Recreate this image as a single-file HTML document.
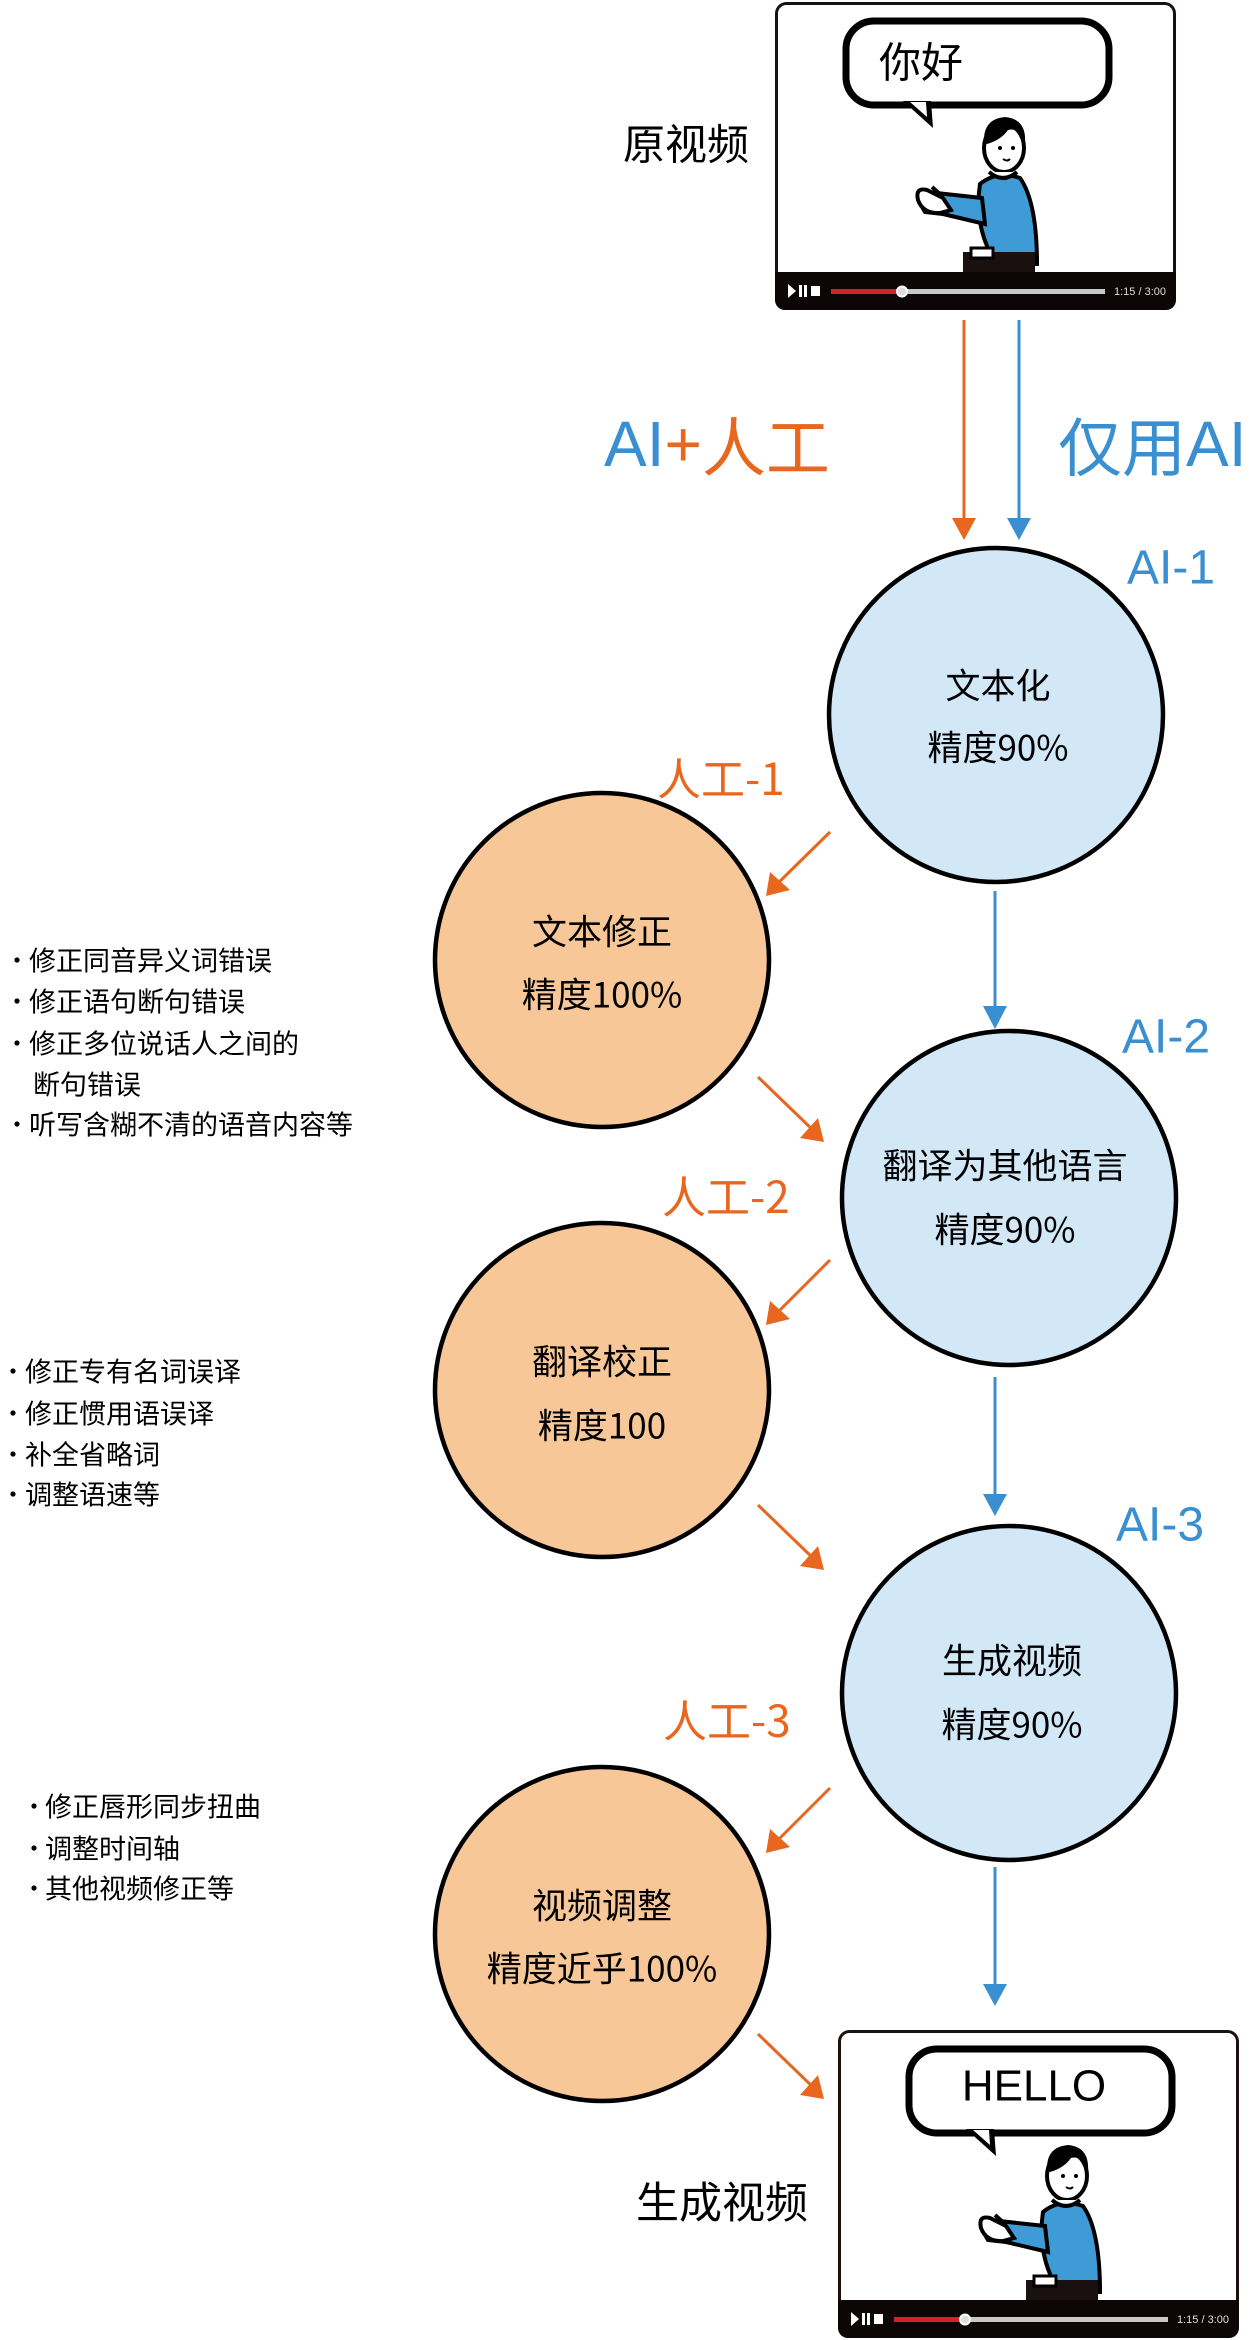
<!DOCTYPE html>
<html><head><meta charset="utf-8"><style>
html,body{margin:0;padding:0;background:#fff}
svg{display:block}
text{font-family:"Liberation Sans","Noto Sans CJK SC",sans-serif}
.c{font-family:"Noto Sans CJK SC","Liberation Sans",sans-serif}
</style></head><body>
<svg width="1253" height="2340" viewBox="0 0 1253 2340" xmlns="http://www.w3.org/2000/svg">
<defs>
<g id="vid">
  <rect x="1.5" y="1.5" width="398" height="305" rx="10" fill="#fff" stroke="#1a1010" stroke-width="3"/>
  <path d="M0,270 H401 V298 a10,10 0 0 1 -10,10 H10 a10,10 0 0 1 -10,-10 z" fill="#0c0606"/>
  <path d="M13,282 l8,7 l-8,7 z" fill="#fff"/>
  <rect x="24" y="283" width="3" height="12" fill="#fff"/><rect x="29" y="283" width="3" height="12" fill="#fff"/>
  <rect x="36" y="284" width="9" height="10" fill="#fff"/>
  <rect x="56" y="287" width="274" height="5" fill="#c8c8c8"/>
  <rect x="56" y="287" width="71" height="5" fill="#d8202a"/>
  <circle cx="127" cy="289.5" r="5" fill="#ddd" stroke="#fff" stroke-width="2"/>
  <rect x="71" y="19" width="263" height="84" rx="28" fill="#fff" stroke="#000" stroke-width="7"/>
  <path d="M128,99 L156,99 L158,126 z" fill="#000"/>
  <path d="M135,100 L151,100 L152,115 z" fill="#fff"/>
  <path d="M205,182 Q222,168 245,176 Q262,200 262,262 L210,262 L212,244 Q200,215 205,182 z" fill="#3f9bd6" stroke="#000" stroke-width="4"/>
  <path d="M207,196 L152,190 Q142,198 150,210 L168,212 L210,222 z" fill="#3f9bd6" stroke="#000" stroke-width="4"/>
  <path d="M152,188 Q140,185 143,198 Q148,212 165,211 L176,208 L168,196 z" fill="#fff" stroke="#000" stroke-width="4"/>
  <path d="M157,185 L168,195" stroke="#000" stroke-width="4"/>
  <ellipse cx="229" cy="146" rx="20" ry="24" fill="#fff" stroke="#000" stroke-width="4"/>
  <path d="M209,140 Q208,117 230,115 Q252,117 250,142 Q244,125 233,128 Q226,138 212,142 z" fill="#000"/>
  <circle cx="225" cy="146" r="2" fill="#000"/><circle cx="238" cy="146" r="2" fill="#000"/>
  <path d="M228,157 q4,3 7,0" stroke="#000" stroke-width="2" fill="none"/>
  <path d="M214,170 Q228,182 242,170" fill="#fff" stroke="#000" stroke-width="4"/>
  <rect x="188" y="250" width="72" height="20" fill="#1a1010"/>
  <rect x="196" y="246" width="22" height="10" fill="#fff" stroke="#000" stroke-width="3"/>
</g>
</defs>

<use href="#vid" x="775" y="2"/>
<text class="c" x="921" y="60" font-size="42" dominant-baseline="central" text-anchor="middle">你好</text>
<text x="1140" y="292" font-size="11" fill="#ddd" dominant-baseline="central" text-anchor="middle">1:15 / 3:00</text>
<use href="#vid" x="838" y="2030"/>
<text x="1034" y="2086" font-size="44" dominant-baseline="central" text-anchor="middle">HELLO</text>
<text x="1203" y="2320" font-size="11" fill="#ddd" dominant-baseline="central" text-anchor="middle">1:15 / 3:00</text>

<text class="c" x="686" y="142" font-size="42" dominant-baseline="central" text-anchor="middle">原视频</text>
<text class="c" x="722" y="2200" font-size="43" dominant-baseline="central" text-anchor="middle">生成视频</text>

<line x1="964" y1="320" x2="964" y2="522" stroke="#e8661e" stroke-width="3"/>
<path d="M952,518 L976,518 L964,540 z" fill="#e8661e"/>
<line x1="1019" y1="320" x2="1019" y2="522" stroke="#3a8fd0" stroke-width="3"/>
<path d="M1007,518 L1031,518 L1019,540 z" fill="#3a8fd0"/>

<text x="604" y="444" font-size="64" dominant-baseline="central"><tspan fill="#3a8fd0">AI</tspan><tspan fill="#e8661e">+</tspan><tspan class="c" fill="#e8661e">人工</tspan></text>
<text x="1058" y="444" font-size="64" dominant-baseline="central" fill="#3a8fd0"><tspan class="c">仅用</tspan>AI</text>

<circle cx="996" cy="715" r="167" fill="#d2e8f7" stroke="#000" stroke-width="4.5"/>
<circle cx="1009" cy="1198" r="167" fill="#d2e8f7" stroke="#000" stroke-width="4.5"/>
<circle cx="1009" cy="1693" r="167" fill="#d2e8f7" stroke="#000" stroke-width="4.5"/>
<circle cx="602" cy="960" r="167" fill="#f7c797" stroke="#000" stroke-width="4.5"/>
<circle cx="602" cy="1390" r="167" fill="#f7c797" stroke="#000" stroke-width="4.5"/>
<circle cx="602" cy="1934" r="167" fill="#f7c797" stroke="#000" stroke-width="4.5"/>

<g class="c" font-size="35" text-anchor="middle" dominant-baseline="central">
<text class="c" x="998" y="684">文本化</text><text class="c" x="998" y="746">精度90%</text>
<text class="c" x="602" y="930">文本修正</text><text class="c" x="602" y="993">精度100%</text>
<text class="c" x="1005" y="1164">翻译为其他语言</text><text class="c" x="1005" y="1228">精度90%</text>
<text class="c" x="602" y="1360">翻译校正</text><text class="c" x="602" y="1424">精度100</text>
<text class="c" x="1012" y="1659">生成视频</text><text class="c" x="1012" y="1723">精度90%</text>
<text class="c" x="602" y="1904">视频调整</text><text class="c" x="602" y="1967">精度近乎100%</text>
</g>

<g font-size="48" dominant-baseline="central">
<text x="1127" y="568" fill="#3a8fd0">AI-1</text>
<text x="1122" y="1037" fill="#3a8fd0">AI-2</text>
<text x="1116" y="1525" fill="#3a8fd0">AI-3</text>
</g>
<g font-size="44" dominant-baseline="central">
<text class="c" x="657" y="776" fill="#e8661e">人工-1</text>
<text class="c" x="662" y="1194" fill="#e8661e">人工-2</text>
<text class="c" x="663" y="1718" fill="#e8661e">人工-3</text>
</g>

<g stroke="#3a8fd0" stroke-width="3">
<line x1="995" y1="891" x2="995" y2="1010"/>
<line x1="995" y1="1377" x2="995" y2="1498"/>
<line x1="995" y1="1867" x2="995" y2="1988"/>
</g>
<g fill="#3a8fd0">
<path d="M983,1006 L1007,1006 L995,1029 z"/>
<path d="M983,1494 L1007,1494 L995,1516 z"/>
<path d="M983,1984 L1007,1984 L995,2006 z"/>
</g>

<g stroke="#e8661e" stroke-width="3" fill="none">
<line x1="830" y1="832" x2="774" y2="887"/>
<line x1="758" y1="1077" x2="816" y2="1133"/>
<line x1="830" y1="1260" x2="774" y2="1316"/>
<line x1="758" y1="1505" x2="816" y2="1561"/>
<line x1="830" y1="1788" x2="774" y2="1844"/>
<line x1="758" y1="2034" x2="816" y2="2090"/>
</g>
<g fill="#e8661e">
<path d="M766,896 L770,872 L790,890 z"/>
<path d="M824,1142 L800,1138 L818,1118 z"/>
<path d="M766,1325 L770,1301 L790,1319 z"/>
<path d="M824,1570 L800,1566 L818,1546 z"/>
<path d="M766,1853 L770,1829 L790,1847 z"/>
<path d="M824,2099 L800,2095 L818,2075 z"/>
</g>

<g fill="#000">
<circle cx="17" cy="960" r="2.6"/><circle cx="17" cy="1001" r="2.6"/><circle cx="17" cy="1043" r="2.6"/><circle cx="17" cy="1124" r="2.6"/>
<circle cx="13" cy="1371" r="2.6"/><circle cx="13" cy="1413" r="2.6"/><circle cx="13" cy="1454" r="2.6"/><circle cx="13" cy="1494" r="2.6"/>
<circle cx="34" cy="1806" r="2.6"/><circle cx="34" cy="1848" r="2.6"/><circle cx="34" cy="1888" r="2.6"/>
</g>
<g class="c" font-size="27" dominant-baseline="central">
<text class="c" x="29" y="959">修正同音异义词错误</text>
<text class="c" x="29" y="1000">修正语句断句错误</text>
<text class="c" x="29" y="1042">修正多位说话人之间的</text>
<text class="c" x="33" y="1083">断句错误</text>
<text class="c" x="29" y="1123">听写含糊不清的语音内容等</text>
<text class="c" x="25" y="1370">修正专有名词误译</text>
<text class="c" x="25" y="1412">修正惯用语误译</text>
<text class="c" x="25" y="1453">补全省略词</text>
<text class="c" x="25" y="1493">调整语速等</text>
<text class="c" x="45" y="1805">修正唇形同步扭曲</text>
<text class="c" x="45" y="1847">调整时间轴</text>
<text class="c" x="45" y="1887">其他视频修正等</text>
</g>
</svg>
</body></html>
